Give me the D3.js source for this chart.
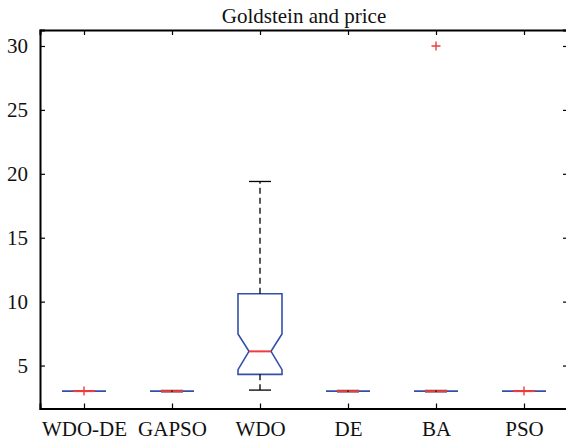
<!DOCTYPE html>
<meta charset="utf-8">
<style>
  body { margin: 0; background: #fff; font-family: "Liberation Serif", serif; }
</style>
<body>
<script src="https://d3js.org/d3.v7.min.js"></script>
<script>
// data
var categories = ["WDO-DE", "GAPSO", "WDO", "DE", "BA", "PSO"];
var q1        = [3, 3, 4.31, 3, 3, 3];
var medians   = [3, 3, 6.11, 3, 3, 3];
var q3        = [3, 3, 10.62, 3, 3, 3];
var notchLo   = [3, 3, 4.68, 3, 3, 3];
var notchHi   = [3, 3, 7.47, 3, 3, 3];
var whiskerLo = [3, 2.95, 3.08, 2.95, 2.95, 3];
var whiskerHi = [3, 3.05, 19.4, 3.05, 3.05, 3];
var outliers  = [[3.0], [], [], [], [30.0], [3.0]];
var yTicks = [5, 10, 15, 20, 25, 30];
var title = "Goldstein and price";

var width = 566, height = 441,
    margin = {top: 30, left: 40, right: 568, bottom: 408.5};

var blue = "#3350a8", red = "#f03c3c", font = "'Liberation Serif', serif";

var x = d3.scaleLinear().domain([0.5, 6.5]).range([margin.left, margin.right]),
    y = d3.scaleLinear().domain([1.64, 31.25]).range([margin.bottom, margin.top]);

var svg = d3.select("body").append("svg")
  .attr("width", width)
  .attr("height", height)
  .style("font-family", font);

var boxW = x(1.25) - x(1),   // half box width
    capW = boxW / 2;

var data = categories.map(function(c, i) {
  return {name: c, pos: i + 1, q1: q1[i], med: medians[i], q3: q3[i],
          nlo: notchLo[i], nhi: notchHi[i], wlo: whiskerLo[i], whi: whiskerHi[i],
          out: outliers[i]};
});

var g = svg.selectAll("g.box").data(data).enter().append("g").attr("class", "box");

// whisker caps
g.append("line")
  .attr("x1", function(d) { return x(d.pos) - capW; })
  .attr("x2", function(d) { return x(d.pos) + capW; })
  .attr("y1", function(d) { return y(d.whi); })
  .attr("y2", function(d) { return y(d.whi); })
  .attr("stroke", "#000").attr("stroke-width", 1.3);
g.append("line")
  .attr("x1", function(d) { return x(d.pos) - capW; })
  .attr("x2", function(d) { return x(d.pos) + capW; })
  .attr("y1", function(d) { return y(d.wlo); })
  .attr("y2", function(d) { return y(d.wlo); })
  .attr("stroke", "#000").attr("stroke-width", 1.3);

// notched box
g.append("path")
  .attr("d", function(d) {
    var cx = x(d.pos), l = cx - boxW, r = cx + boxW, il = cx - capW, ir = cx + capW;
    return "M" + l + "," + y(d.q1) + "L" + l + "," + y(d.nlo) + "L" + il + "," + y(d.med) +
      "L" + l + "," + y(d.nhi) + "L" + l + "," + y(d.q3) + "L" + r + "," + y(d.q3) +
      "L" + r + "," + y(d.nhi) + "L" + ir + "," + y(d.med) + "L" + r + "," + y(d.nlo) +
      "L" + r + "," + y(d.q1) + "Z";
  })
  .attr("fill", "none").attr("stroke", blue).attr("stroke-width", 1.6);

// median
g.append("line")
  .attr("x1", function(d) { return x(d.pos) - capW; })
  .attr("x2", function(d) { return x(d.pos) + capW; })
  .attr("y1", function(d) { return y(d.med); })
  .attr("y2", function(d) { return y(d.med); })
  .attr("stroke", red).attr("stroke-width", 2);

// dashed whiskers
g.append("line")
  .attr("x1", function(d) { return x(d.pos); })
  .attr("x2", function(d) { return x(d.pos); })
  .attr("y1", function(d) { return y(d.q3); })
  .attr("y2", function(d) { return y(d.whi); })
  .attr("stroke", "#000").attr("stroke-width", 1.3).attr("stroke-dasharray", "6,4");
g.append("line")
  .attr("x1", function(d) { return x(d.pos); })
  .attr("x2", function(d) { return x(d.pos); })
  .attr("y1", function(d) { return y(d.q1); })
  .attr("y2", function(d) { return y(d.wlo); })
  .attr("stroke", "#000").attr("stroke-width", 1.3).attr("stroke-dasharray", "6,4");

// outliers as red plus signs
g.selectAll("path.out").data(function(d) { return d.out.map(function(v) { return {pos: d.pos, v: v}; }); })
  .enter().append("path").attr("class", "out")
  .attr("d", function(o) {
    var cx = x(o.pos), cy = y(o.v), s = 4.5;
    return "M" + (cx - s) + "," + cy + "H" + (cx + s) + "M" + cx + "," + (cy - s) + "V" + (cy + s);
  })
  .attr("stroke", red).attr("stroke-width", 1.4).attr("fill", "none");

// axes with inward ticks on all sides
var xAxisB = d3.axisBottom(x).tickValues(d3.range(1, 7)).tickSize(-5).tickPadding(13)
      .tickFormat(function(d) { return categories[d - 1]; }),
    xAxisT = d3.axisTop(x).tickValues(d3.range(1, 7)).tickSize(-5).tickFormat(""),
    yAxisL = d3.axisLeft(y).tickValues(yTicks).tickSize(-5).tickPadding(12),
    yAxisR = d3.axisRight(y).tickValues(yTicks).tickSize(-5).tickFormat("");

svg.append("g").attr("class", "x axis")
  .attr("transform", "translate(0," + margin.bottom + ")").call(xAxisB);
svg.append("g").attr("class", "x axis")
  .attr("transform", "translate(0," + margin.top + ")").call(xAxisT);
svg.append("g").attr("class", "y axis")
  .attr("transform", "translate(" + margin.left + ",0)").call(yAxisL);
svg.append("g").attr("class", "y axis")
  .attr("transform", "translate(" + margin.right + ",0)").call(yAxisR);

svg.selectAll(".axis").attr("font-family", null).attr("font-size", null);
svg.selectAll(".axis path.domain").attr("stroke", "#000").attr("stroke-width", 2);
svg.selectAll(".axis .tick line").attr("stroke", "#000").attr("stroke-width", 1.2);
svg.selectAll(".axis text")
  .style("font-family", font)
  .style("font-size", "21px").attr("fill", "#111");

svg.append("text")
  .attr("x", (margin.left + margin.right) / 2)
  .attr("y", 23)
  .attr("text-anchor", "middle")
  .style("font-family", font)
  .style("font-size", "21px")
  .attr("fill", "#111")
  .text(title);
</script>
</body>
